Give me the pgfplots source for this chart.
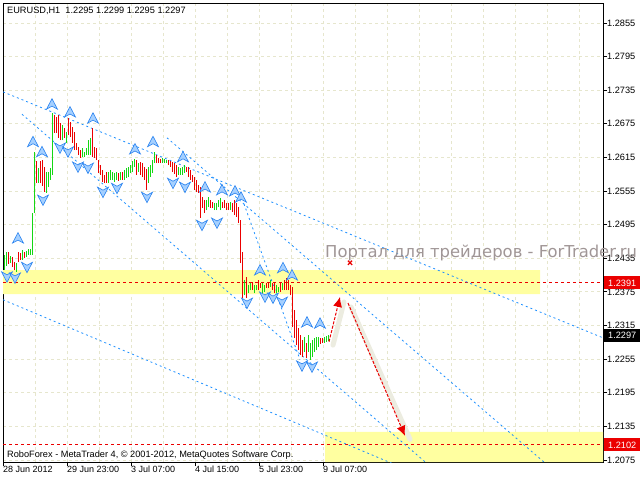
\documentclass[border=0pt]{standalone}
\usepackage{fontspec}
\setmainfont{Liberation Sans}
\newfontfamily\wmfont{DejaVu Sans}
\usepackage{pgfplots}
\pgfplotsset{compat=1.18}
\usetikzlibrary{arrows.meta}
\definecolor{bargreen}{RGB}{20,215,20}
\definecolor{barred}{RGB}{235,0,0}
\definecolor{lineblue}{RGB}{30,144,255}
\definecolor{band}{RGB}{255,255,160}
\definecolor{gridc}{RGB}{230,230,205}
\definecolor{fracfill}{RGB}{165,208,255}
\definecolor{fracedge}{RGB}{40,130,240}
\definecolor{wmgray}{RGB}{160,150,150}
\definecolor{shadowc}{RGB}{236,236,224}
\pgfdeclareplotmark{fup}{%
  \pgfpathmoveto{\pgfqpoint{0pt}{5.5pt}}%
  \pgfpathlineto{\pgfqpoint{5.5pt}{-5pt}}%
  \pgfpathlineto{\pgfqpoint{0pt}{-2pt}}%
  \pgfpathlineto{\pgfqpoint{-5.5pt}{-5pt}}%
  \pgfpathclose
  \pgfusepathqfillstroke}
\pgfdeclareplotmark{fdown}{%
  \pgfpathmoveto{\pgfqpoint{0pt}{-5.5pt}}%
  \pgfpathlineto{\pgfqpoint{5.5pt}{5pt}}%
  \pgfpathlineto{\pgfqpoint{0pt}{2pt}}%
  \pgfpathlineto{\pgfqpoint{-5.5pt}{5pt}}%
  \pgfpathclose
  \pgfusepathqfillstroke}
\begin{document}
\begin{tikzpicture}
\begin{axis}[
  scale only axis, width=600pt, height=459pt,
  xmin=3, xmax=603, ymin=1.20714, ymax=1.28906,
  axis line style={black, line width=0.8pt},
  xtick={3,67,131,195,259,323},
  xticklabels={28 Jun 2012, 29 Jun 23:00, 3 Jul 07:00, 4 Jul 15:00, 5 Jul 23:00, 9 Jul 07:00},
  minor xtick={35,99,163,227,291,355,387,419,451,483,515,547,579},
  ytick={1.2075,1.2135,1.2195,1.2255,1.2315,1.2375,1.2435,1.2495,1.2555,1.2615,1.2675,1.2735,1.2795,1.2855},
  xtick pos=lower, ytick pos=upper, yticklabel pos=upper,
  tick align=outside, major tick length=4pt, minor tick length=0pt,
  tick style={black, line width=0.8pt},
  xmajorgrids=true, xminorgrids=true, ymajorgrids=true,
  major grid style={gridc, dash pattern=on 3pt off 3pt, line width=0.8pt},
  minor grid style={gridc, dash pattern=on 3pt off 3pt, line width=0.8pt},
  xticklabel style={anchor=north west, inner sep=0pt, font=\fontsize{9}{10}\selectfont},
  yticklabel style={anchor=west, inner sep=0pt, font=\fontsize{9.2}{10}\selectfont},
  /pgf/number format/.cd, fixed, fixed zerofill, precision=4, assume math mode=true,
]
\coordinate (sw) at (rel axis cs:0,0);
\coordinate (nw) at (rel axis cs:0,1);
\coordinate (wm) at (axis cs:325,1.2437);
\coordinate (l1) at (axis cs:603,1.2391);
\coordinate (l2) at (axis cs:603,1.2297);
\coordinate (l3) at (axis cs:603,1.2102);
% yellow zones
\addplot[fill=band, draw=none] coordinates {(3,1.2371) (540,1.2371) (540,1.2414) (3,1.2414) (3,1.2371)};
\addplot[fill=band, draw=none] coordinates {(325,1.20714) (603,1.20714) (603,1.2125) (325,1.2125) (325,1.20714)};
% red levels
\addplot[barred, dash pattern=on 3pt off 3pt, line width=0.9pt] coordinates {(3,1.2391) (603,1.2391)};
\addplot[barred, dash pattern=on 3pt off 3pt, line width=0.9pt] coordinates {(3,1.2102) (603,1.2102)};
% channel lines
\addplot[lineblue, dash pattern=on 2pt off 3pt, line width=0.8pt] coordinates {(3,1.2732) (603,1.2293)};
\addplot[lineblue, dash pattern=on 2pt off 3pt, line width=0.8pt] coordinates {(22,1.2692) (432,1.2061)};
\addplot[lineblue, dash pattern=on 2pt off 3pt, line width=0.8pt] coordinates {(3,1.2361) (400,1.2063)};
\addplot[lineblue, dash pattern=on 2pt off 3pt, line width=0.8pt] coordinates {(167,1.2650) (552,1.2059)};
\addplot[lineblue, dash pattern=on 2pt off 3pt, line width=0.8pt] coordinates {(244,1.2532) (300,1.2254)};
% forecast shadows
\addplot[shadowc, line width=5pt, line cap=round] coordinates {(333,1.2280) (344,1.2357)};
\addplot[shadowc, line width=5pt, line cap=round] coordinates {(351,1.2348) (410,1.2112)};
% bullish bars (low, high)
\addplot[bargreen, line width=0.9pt, unbounded coords=jump] coordinates {
(4,1.2414) (4,1.2441) (4,nan) (6,1.2421) (6,1.2446) (6,nan) (10,1.2427) (10,1.2439) (10,nan)
(16,1.2411) (16,1.2427) (16,nan) (22,1.2432) (22,1.2450) (22,nan) (26,1.2437) (26,1.2448) (26,nan)
(28,1.2441) (28,1.2452) (28,nan) (30,1.2441) (30,1.2452) (30,nan) (32,1.2441) (32,1.2516) (32,nan)
(34,1.2516) (34,1.2625) (34,nan) (38,1.2569) (38,1.2596) (38,nan) (46,1.2552) (46,1.2589) (46,nan)
(48,1.2562) (48,1.2589) (48,nan) (50,1.2575) (50,1.2596) (50,nan) (52,1.2584) (52,1.2694) (52,nan)
(62,1.2646) (62,1.2673) (62,nan) (66,1.2641) (66,1.2660) (66,nan) (82,1.2616) (82,1.2632) (82,nan)
(84,1.2616) (84,1.2625) (84,nan) (86,1.2619) (86,1.2632) (86,nan) (88,1.2619) (88,1.2646) (88,nan)
(90,1.2619) (90,1.2650) (90,nan) (108,1.2569) (108,1.2589) (108,nan) (110,1.2575) (110,1.2593) (110,nan)
(112,1.2575) (112,1.2589) (112,nan) (114,1.2571) (114,1.2587) (114,nan) (116,1.2575) (116,1.2589) (116,nan)
(120,1.2575) (120,1.2589) (120,nan) (124,1.2575) (124,1.2593) (124,nan) (126,1.2578) (126,1.2596) (126,nan)
(128,1.2580) (128,1.2598) (128,nan) (130,1.2587) (130,1.2602) (130,nan) (132,1.2589) (132,1.2609) (132,nan)
(134,1.2598) (134,1.2612) (134,nan) (138,1.2589) (138,1.2605) (138,nan) (148,1.2569) (148,1.2598) (148,nan)
(150,1.2580) (150,1.2602) (150,nan) (152,1.2587) (152,1.2610) (152,nan) (154,1.2605) (154,1.2625) (154,nan)
(162,1.2605) (162,1.2614) (162,nan) (164,1.2605) (164,1.2612) (164,nan) (166,1.2605) (166,1.2610) (166,nan)
(178,1.2584) (178,1.2598) (178,nan) (180,1.2584) (180,1.2596) (180,nan) (182,1.2584) (182,1.2598) (182,nan)
(184,1.2587) (184,1.2602) (184,nan) (206,1.2521) (206,1.2539) (206,nan) (208,1.2527) (208,1.2544) (208,nan)
(214,1.2521) (214,1.2534) (214,nan) (216,1.2521) (216,1.2534) (216,nan) (218,1.2527) (218,1.2539) (218,nan)
(220,1.2521) (220,1.2543) (220,nan) (230,1.2521) (230,1.2535) (230,nan) (244,1.2369) (244,1.2396) (244,nan)
(248,1.2373) (248,1.2387) (248,nan) (250,1.2378) (250,1.2391) (250,nan) (254,1.2373) (254,1.2387) (254,nan)
(256,1.2378) (256,1.2387) (256,nan) (262,1.2373) (262,1.2391) (262,nan) (264,1.2375) (264,1.2387) (264,nan)
(270,1.2384) (270,1.2396) (270,nan) (276,1.2373) (276,1.2387) (276,nan) (278,1.2375) (278,1.2384) (278,nan)
(282,1.2378) (282,1.2391) (282,nan) (304,1.2268) (304,1.2294) (304,nan) (308,1.2268) (308,1.2298) (308,nan)
(310,1.2254) (310,1.2284) (310,nan) (312,1.2259) (312,1.2289) (312,nan) (314,1.2268) (314,1.2293) (314,nan)
(316,1.2271) (316,1.2294) (316,nan) (318,1.2277) (318,1.2294) (318,nan) (324,1.2284) (324,1.2294) (324,nan)
(326,1.2286) (326,1.2296) (326,nan) (328,1.2287) (328,1.2298) (328,nan)
};
% bearish bars (low, high)
\addplot[barred, line width=0.9pt, unbounded coords=jump] coordinates {
(8,1.2425) (8,1.2446) (8,nan) (12,1.2419) (12,1.2437) (12,nan) (14,1.2414) (14,1.2428) (14,nan)
(18,1.2428) (18,1.2446) (18,nan) (20,1.2432) (20,1.2444) (20,nan) (24,1.2435) (24,1.2446) (24,nan)
(36,1.2569) (36,1.2609) (36,nan) (40,1.2569) (40,1.2609) (40,nan) (42,1.2564) (42,1.2610) (42,nan)
(44,1.2553) (44,1.2598) (44,nan) (54,1.2659) (54,1.2691) (54,nan) (56,1.2659) (56,1.2687) (56,nan)
(58,1.2650) (58,1.2691) (58,nan) (60,1.2646) (60,1.2676) (60,nan) (64,1.2650) (64,1.2668) (64,nan)
(68,1.2655) (68,1.2685) (68,nan) (70,1.2651) (70,1.2678) (70,nan) (72,1.2641) (72,1.2669) (72,nan)
(74,1.2628) (74,1.2660) (74,nan) (76,1.2628) (76,1.2641) (76,nan) (78,1.2619) (78,1.2634) (78,nan)
(80,1.2614) (80,1.2628) (80,nan) (92,1.2616) (92,1.2668) (92,nan) (94,1.2614) (94,1.2634) (94,nan)
(96,1.2610) (96,1.2632) (96,nan) (98,1.2587) (98,1.2610) (98,nan) (100,1.2584) (100,1.2602) (100,nan)
(102,1.2571) (102,1.2593) (102,nan) (104,1.2569) (104,1.2584) (104,nan) (106,1.2569) (106,1.2589) (106,nan)
(118,1.2573) (118,1.2587) (118,nan) (122,1.2575) (122,1.2589) (122,nan) (136,1.2584) (136,1.2610) (136,nan)
(140,1.2584) (140,1.2607) (140,nan) (142,1.2580) (142,1.2605) (142,nan) (144,1.2575) (144,1.2598) (144,nan)
(146,1.2557) (146,1.2594) (146,nan) (156,1.2605) (156,1.2619) (156,nan) (158,1.2605) (158,1.2614) (158,nan)
(160,1.2605) (160,1.2612) (160,nan) (168,1.2602) (168,1.2610) (168,nan) (170,1.2598) (170,1.2609) (170,nan)
(172,1.2589) (172,1.2607) (172,nan) (174,1.2585) (174,1.2605) (174,nan) (176,1.2580) (176,1.2602) (176,nan)
(186,1.2589) (186,1.2598) (186,nan) (188,1.2580) (188,1.2598) (188,nan) (190,1.2575) (190,1.2593) (190,nan)
(192,1.2571) (192,1.2584) (192,nan) (194,1.2557) (194,1.2580) (194,nan) (196,1.2553) (196,1.2575) (196,nan)
(198,1.2552) (198,1.2566) (198,nan) (200,1.2507) (200,1.2562) (200,nan) (202,1.2525) (202,1.2544) (202,nan)
(204,1.2516) (204,1.2539) (204,nan) (210,1.2525) (210,1.2539) (210,nan) (212,1.2525) (212,1.2535) (212,nan)
(222,1.2525) (222,1.2535) (222,nan) (224,1.2525) (224,1.2539) (224,nan) (226,1.2521) (226,1.2534) (226,nan)
(228,1.2521) (228,1.2534) (228,nan) (232,1.2518) (232,1.2534) (232,nan) (234,1.2512) (234,1.2539) (234,nan)
(236,1.2509) (236,1.2534) (236,nan) (238,1.2498) (238,1.2527) (238,nan) (240,1.2427) (240,1.2503) (240,nan)
(242,1.2364) (242,1.2446) (242,nan) (246,1.2364) (246,1.2402) (246,nan) (252,1.2378) (252,1.2393) (252,nan)
(258,1.2378) (258,1.2396) (258,nan) (260,1.2382) (260,1.2391) (260,nan) (266,1.2382) (266,1.2391) (266,nan)
(268,1.2382) (268,1.2391) (268,nan) (272,1.2378) (272,1.2391) (272,nan) (274,1.2373) (274,1.2391) (274,nan)
(280,1.2375) (280,1.2393) (280,nan) (284,1.2378) (284,1.2396) (284,nan) (286,1.2378) (286,1.2400) (286,nan)
(288,1.2378) (288,1.2396) (288,nan) (290,1.2369) (290,1.2387) (290,nan) (292,1.2312) (292,1.2384) (292,nan)
(294,1.2293) (294,1.2343) (294,nan) (296,1.2280) (296,1.2325) (296,nan) (298,1.2271) (298,1.2311) (298,nan)
(300,1.2262) (300,1.2298) (300,nan) (302,1.2259) (302,1.2289) (302,nan) (306,1.2257) (306,1.2284) (306,nan)
(320,1.2282) (320,1.2293) (320,nan) (322,1.2284) (322,1.2293) (322,nan)
};
% fractals
\addplot[only marks, mark=fup, mark options={draw=fracedge, fill=fracfill, line width=0.6pt}] coordinates {
(18,1.2471) (33,1.2643) (42,1.2625) (52,1.2710) (70,1.2696) (93,1.2685) (135,1.2630) (153,1.2643)
(183,1.2616) (205,1.2562) (222,1.2557) (235,1.2555) (241,1.2544) (260,1.2414) (283,1.2418) (292,1.2405)
(307,1.2321) (320,1.2319)};
\addplot[only marks, mark=fdown, mark options={draw=fracedge, fill=fracfill, line width=0.6pt}] coordinates {
(7,1.2402) (15,1.2400) (27,1.2419) (43,1.2539) (60,1.2632) (68,1.2625) (78,1.2598) (88,1.2596)
(103,1.2553) (117,1.2560) (147,1.2544) (173,1.2569) (185,1.2562) (202,1.2494) (217,1.2498)
(247,1.2355) (265,1.2366) (273,1.2364) (282,1.2357) (302,1.2243) (312,1.2241)};
% forecast arrows
\addplot[barred, line width=1pt, dash pattern=on 3pt off 1.5pt, -{Latex[length=10pt,width=9pt]}] coordinates {(329,1.2286) (340,1.2366)};
\addplot[barred, line width=1pt, dash pattern=on 3pt off 1.5pt, -{Latex[length=10pt,width=9pt]}] coordinates {(348,1.2355) (405,1.2118)};
\addplot[only marks, mark=x, mark size=3pt, barred, line width=1.3pt] coordinates {(350,1.2427)};
\end{axis}
\node[anchor=west, inner sep=0pt, font=\fontsize{9.2}{10}\selectfont] at ([xshift=4pt,yshift=-8pt]nw) {EURUSD,H1\ \ 1.2295 1.2299 1.2295 1.2297};
\node[anchor=west, inner sep=0pt, font=\fontsize{9.2}{10}\selectfont] at ([xshift=4pt,yshift=7pt]sw) {RoboForex - MetaTrader 4, © 2001-2012, MetaQuotes Software Corp.};
\node[anchor=base west, inner sep=0pt, text=wmgray, font=\wmfont\fontsize{16.4}{17}\selectfont] at (wm) {Портал для трейдеров - ForTrader.ru};
\node[anchor=west, fill=barred, text=white, minimum width=36pt, minimum height=13pt, inner sep=0pt, font=\fontsize{9.2}{10}\selectfont] at ([xshift=1pt]l1) {1.2391};
\node[anchor=west, fill=black, text=white, minimum width=36pt, minimum height=13pt, inner sep=0pt, font=\fontsize{9.2}{10}\selectfont] at ([xshift=1pt]l2) {1.2297};
\node[anchor=west, fill=barred, text=white, minimum width=36pt, minimum height=13pt, inner sep=0pt, font=\fontsize{9.2}{10}\selectfont] at ([xshift=1pt]l3) {1.2102};
\pgfresetboundingbox
\path ([xshift=-3pt,yshift=-18pt]sw) rectangle ++(640pt,480pt);
\end{tikzpicture}
\end{document}
